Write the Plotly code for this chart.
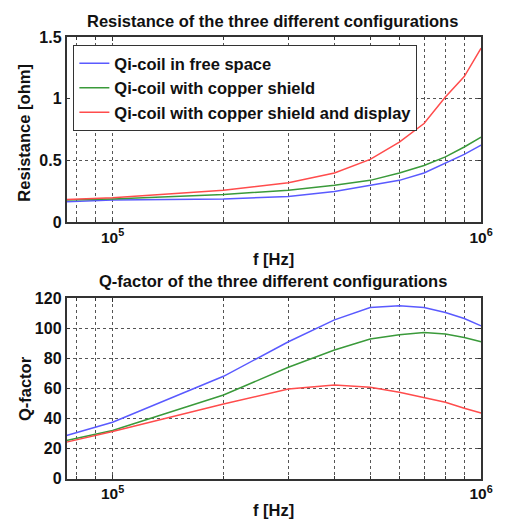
import plotly.graph_objects as go

freq = [75e3, 1e5, 2e5, 3e5, 4e5, 5e5, 6e5, 7e5, 8e5, 9e5, 1e6]

r_free = [0.167, 0.18, 0.19, 0.21, 0.25, 0.30, 0.34, 0.40, 0.48, 0.55, 0.625]
r_shield = [0.18, 0.19, 0.226, 0.26, 0.30, 0.34, 0.40, 0.46, 0.53, 0.61, 0.69]
r_display = [0.186, 0.20, 0.26, 0.32, 0.40, 0.51, 0.65, 0.80, 1.015, 1.18, 1.41]

q_free = [28.8, 37.6, 68.2, 91.2, 105.8, 114.0, 115.1, 114.0, 110.7, 106.7, 101.8]
q_shield = [25.5, 32.1, 55.8, 74.2, 85.7, 93.0, 95.9, 97.4, 96.3, 94.0, 91.2]
q_display = [24.4, 31.4, 49.8, 59.8, 62.4, 60.9, 57.6, 54.2, 50.9, 47.0, 43.8]

names = ["Qi-coil in free space", "Qi-coil with copper shield",
         "Qi-coil with copper shield and display"]
colors = ["#5a5aff", "#3a9a3a", "#ff4c4c"]

x_major = [1e5, 1e6]
x_major_text = ["10<sup>5</sup>", "10<sup>6</sup>"]
x_minor = [8e4, 9e4, 2e5, 3e5, 4e5, 5e5, 6e5, 7e5, 8e5, 9e5]

r_ticks = [0, 0.5, 1, 1.5]
r_ticktext = ["0", "0.5", "1", "1.5"]
q_ticks = [0, 20, 40, 60, 80, 100, 120]

W, H = 505, 525
FONT = "Liberation Sans, Arial, sans-serif"
TICKFONT = dict(size=16, family=FONT, color="#111", weight="bold")
XTICKFONT = dict(size=15.5, family=FONT, color="#111", weight="bold")
TEXTFONT = dict(size=16.5, family=FONT, color="#111", weight="bold")


def px(x):
    return x / W


def py(y):
    # target pixel row in the final picture -> paper fraction
    yf = min((y - 8) / 0.966, H - 6)
    return 1 - yf / H


fig = go.Figure()
for ys, n, c in zip([r_free, r_shield, r_display], names, colors):
    fig.add_trace(go.Scatter(x=freq, y=ys, mode="lines", name=n,
                             line=dict(color=c, width=1.5),
                             xaxis="x", yaxis="y"))
for ys, n, c in zip([q_free, q_shield, q_display], names, colors):
    fig.add_trace(go.Scatter(x=freq, y=ys, mode="lines", name=n,
                             line=dict(color=c, width=1.5), showlegend=False,
                             xaxis="x2", yaxis="y2"))

grid = dict(showgrid=True, gridcolor="#555", griddash="dot", gridwidth=1)
xax = dict(type="log", range=[4.875, 6.0005], tickmode="array",
           tickvals=x_major, ticktext=x_major_text,
           minor=dict(tickmode="array", tickvals=x_minor, ticks="inside",
                      ticklen=3, tickcolor="#333", **grid),
           showline=True, linecolor="#333", linewidth=1.5, mirror="allticks",
           ticks="inside", ticklen=4, tickcolor="#333", tickfont=XTICKFONT,
           zeroline=False, **grid)
yax_common = dict(showline=True, linecolor="#333", linewidth=1.5, mirror="allticks",
                  ticks="inside", ticklen=4, tickcolor="#333", tickfont=TICKFONT,
                  zeroline=False, **grid)

fig.update_layout(
    width=W, height=H,
    margin=dict(l=0, r=0, t=0, b=0),
    paper_bgcolor="white", plot_bgcolor="white",
    font=dict(family=FONT, size=16, color="#111"),
    xaxis=dict(xax, domain=[px(68), px(492)], anchor="y"),
    yaxis=dict(yax_common, domain=[py(222), py(37)], range=[0, 1.5],
               tickvals=r_ticks, ticktext=r_ticktext, anchor="x"),
    xaxis2=dict(xax, domain=[px(68), px(492)], anchor="y2"),
    yaxis2=dict(yax_common, domain=[py(478), py(298)], range=[0, 120],
                tickvals=q_ticks, anchor="x2"),
    showlegend=True,
    legend=dict(x=px(75), y=py(45), xanchor="left", yanchor="top",
                bgcolor="white", bordercolor="#333", borderwidth=1,
                font=TEXTFONT, tracegroupgap=0, itemwidth=30),
)

annotations = [
    dict(text="Resistance of the three different configurations", x=px(279), y=py(21)),
    dict(text="Q-factor of the three different configurations", x=px(279), y=py(281)),
    dict(text="f [Hz]", x=px(280), y=py(259)),
    dict(text="f [Hz]", x=px(280), y=py(517)),
]
for a in annotations:
    fig.add_annotation(xref="paper", yref="paper", showarrow=False,
                       xanchor="center", yanchor="middle", font=TEXTFONT, **a)
fig.add_annotation(text="Resistance [ohm]", xref="paper", yref="paper",
                   x=px(25), y=py(132), textangle=-90, showarrow=False,
                   xanchor="center", yanchor="middle", font=TEXTFONT)
fig.add_annotation(text="Q-factor", xref="paper", yref="paper",
                   x=px(25), y=py(388), textangle=-90, showarrow=False,
                   xanchor="center", yanchor="middle", font=TEXTFONT)

fig.write_html("out.html")
